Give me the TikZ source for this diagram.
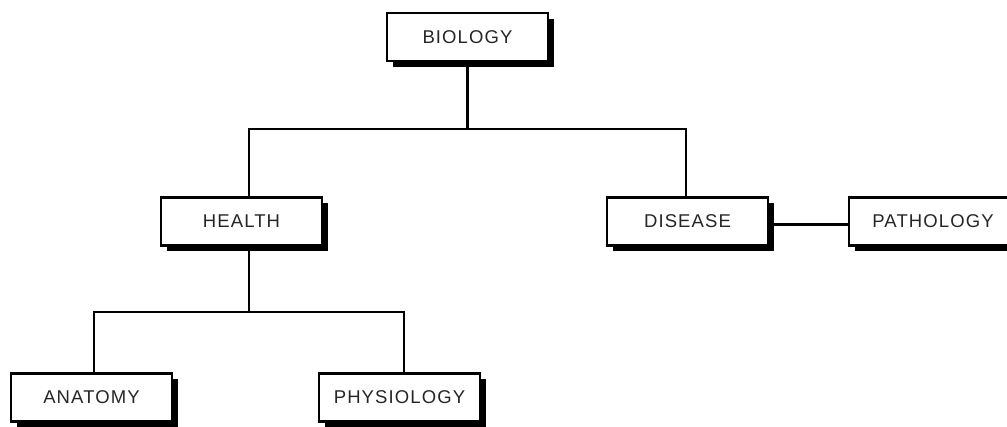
\documentclass[tikz,border=0pt]{standalone}
\usepackage{fontspec}
\setmainfont{Liberation Sans}[LetterSpace=6]
\usetikzlibrary{shadows}
\begin{document}
\begin{tikzpicture}[x=1pt,y=-1pt,
  box/.style={draw=black, line width=2.4pt, fill=white, minimum width=161pt, minimum height=48pt,
    inner sep=0pt, font=\fontsize{18.5}{20}\selectfont, text=black!85,
    drop shadow={shadow xshift=6pt, shadow yshift=-6pt, opacity=1, fill=black}},
  conn/.style={line width=2.4pt, line cap=rect}]
\useasboundingbox (0,0) rectangle (1007,427);
\coordinate (hl) at (249,129);
\coordinate (hr) at (686,129);
\coordinate (la) at (94,312);
\coordinate (ra) at (404,312);
\node[box] (biology) at (467.5,37) {BIOLOGY};
\node[box] (health) at (241.5,221.5) {HEALTH};
\node[box] (disease) at (687.5,221.5) {DISEASE};
\node[box, minimum width=168pt] (pathology) at (933,221.5) {PATHOLOGY};
\node[box] (anatomy) at (91.5,397.5) {ANATOMY};
\node[box] (physiology) at (399.5,397.5) {PHYSIOLOGY};
\draw[conn] (biology.south) -- (biology.south |- hl);
\draw[conn] (hl |- health.north) -- (hl) -- (hr) -- (hr |- disease.north);
\draw[conn] ([yshift=-6pt]hl |- health.south) -- (hl |- la);
\draw[conn] (la |- anatomy.north) -- (la) -- (ra) -- (ra |- physiology.north);
\draw[conn] ([xshift=6pt,yshift=-3pt]disease.east) -- ([yshift=-3pt]pathology.west);
\end{tikzpicture}
\end{document}
